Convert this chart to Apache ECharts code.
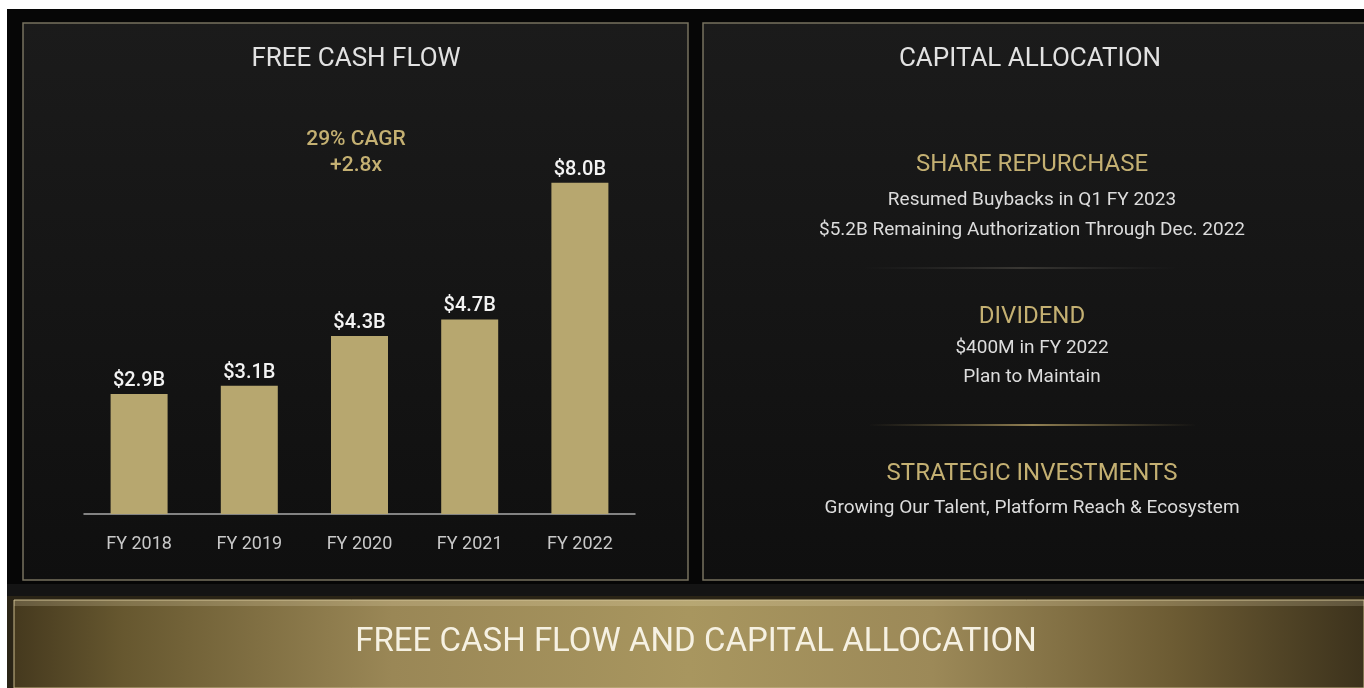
<!DOCTYPE html>
<html>
<head>
<meta charset="utf-8">
<title>Free Cash Flow and Capital Allocation</title>
<script src="https://cdn.jsdelivr.net/npm/echarts@6/dist/echarts.min.js"></script>
<style>
  html, body { margin: 0; padding: 0; background: #fff; }
  #chart { width: 1364px; height: 688px; }
</style>
</head>
<body>
<div id="chart"></div>
<script>
// data
var years = ['FY 2018', 'FY 2019', 'FY 2020', 'FY 2021', 'FY 2022'];
var fcf = [2.9, 3.1, 4.3, 4.7, 8.0];
var fcfLabels = ['$2.9B', '$3.1B', '$4.3B', '$4.7B', '$8.0B'];
var growthNote = ['29% CAGR', '+2.8x'];
var allocation = [
  { head: 'SHARE REPURCHASE', lines: ['Resumed Buybacks in Q1 FY 2023', '$5.2B Remaining Authorization Through Dec. 2022'] },
  { head: 'DIVIDEND', lines: ['$400M in FY 2022', 'Plan to Maintain'] },
  { head: 'STRATEGIC INVESTMENTS', lines: ['Growing Our Talent, Platform Reach & Ecosystem'] }
];

var FONT = 'Roboto, "DejaVu Sans", sans-serif';
var GOLD = '#c4b072';
var BAR = '#b7a76f';

function txt(x, y, s, size, color, weight) {
  return {
    type: 'text', x: x, y: y, z: 10,
    style: {
      text: s, fontSize: size, fill: color, fontFamily: FONT,
      fontWeight: weight || 'normal', align: 'center', verticalAlign: 'middle'
    }
  };
}

var chart = echarts.init(document.getElementById('chart'));

var panelFill = new echarts.graphic.LinearGradient(0, 0, 0, 1, [
  { offset: 0, color: '#1b1b1b' }, { offset: 1, color: '#0f0f0f' }]);

var graphics = [
  // black slide area (white margin top/left like the capture)
  { type: 'rect', z: 0, shape: { x: 7, y: 9, width: 1357, height: 679 }, style: { fill: '#060606' } },
  // left panel
  { type: 'rect', z: 1, shape: { x: 23, y: 23, width: 665, height: 557 },
    style: { fill: panelFill, stroke: '#77725f', lineWidth: 1.5 } },
  // right panel
  { type: 'rect', z: 1, shape: { x: 703, y: 23, width: 670, height: 557 },
    style: { fill: panelFill, stroke: '#77725f', lineWidth: 1.5 } },
  // strip under the panels
  { type: 'rect', z: 1, shape: { x: 7, y: 584, width: 1357, height: 12 }, style: { fill: '#141414' } },
  // banner
  { type: 'rect', z: 1, shape: { x: 7, y: 596, width: 1357, height: 92 },
    style: { fill: '#2a2416' } },
  { type: 'rect', z: 2, shape: { x: 14, y: 600, width: 1350, height: 88 },
    style: { fill: new echarts.graphic.LinearGradient(0, 0, 1, 0, [
      { offset: 0, color: '#45391e' },
      { offset: 0.08, color: '#66572f' },
      { offset: 0.28, color: '#9a8756' },
      { offset: 0.5, color: '#a8965f' },
      { offset: 0.68, color: '#9c8958' },
      { offset: 0.86, color: '#6c5b33' },
      { offset: 1, color: '#3c321c' }]),
      stroke: '#c9b98a', lineWidth: 1 } },
  { type: 'rect', z: 3, shape: { x: 14, y: 600, width: 1350, height: 6 },
    style: { fill: 'rgba(255,245,210,0.18)' } },
  txt(696, 643, 'FREE CASH FLOW AND CAPITAL ALLOCATION', 33, '#f6f1e2'),
  // left panel texts
  txt(356, 59, 'FREE CASH FLOW', 26, '#e2e2e2'),
  txt(356, 140, growthNote[0], 21, GOLD, 500),
  txt(356, 166, growthNote[1], 21, GOLD, 500),
  // right panel texts
  txt(1030, 59, 'CAPITAL ALLOCATION', 26, '#e2e2e2'),
  // dividers
  { type: 'line', z: 5, shape: { x1: 865, y1: 268, x2: 1175, y2: 268 },
    style: { stroke: new echarts.graphic.LinearGradient(0, 0, 1, 0, [
      { offset: 0, color: 'rgba(80,80,80,0)' }, { offset: 0.5, color: 'rgba(110,105,95,0.8)' }, { offset: 1, color: 'rgba(80,80,80,0)' }]),
      lineWidth: 1 } },
  { type: 'line', z: 5, shape: { x1: 870, y1: 425, x2: 1195, y2: 425 },
    style: { stroke: new echarts.graphic.LinearGradient(0, 0, 1, 0, [
      { offset: 0, color: 'rgba(150,130,80,0)' }, { offset: 0.5, color: 'rgba(200,175,110,0.95)' }, { offset: 1, color: 'rgba(150,130,80,0)' }]),
      lineWidth: 1.5 } }
];

var headY = [165, 317, 474];
var lineY = [[200, 230], [348, 377], [508]];
allocation.forEach(function (a, i) {
  graphics.push(txt(1032, headY[i], a.head, 24, GOLD));
  a.lines.forEach(function (l, j) {
    graphics.push(txt(1032, lineY[i][j], l, 19, '#dcdcdc'));
  });
});

chart.setOption({
  backgroundColor: '#ffffff',
  animation: false,
  graphic: graphics,
  grid: { left: 84, top: 100, width: 551, height: 414 },
  xAxis: {
    type: 'category',
    data: years,
    z: 20,
    axisLine: { lineStyle: { color: '#a9a9a9', width: 1.5 } },
    axisTick: { show: false },
    axisLabel: { color: '#c9c9c9', fontSize: 18, margin: 21, fontFamily: FONT }
  },
  yAxis: {
    type: 'value', min: 0, max: 10,
    show: false, splitLine: { show: false }
  },
  series: [{
    type: 'bar',
    data: fcf,
    barWidth: 57,
    z: 20,
    itemStyle: { color: BAR },
    label: {
      show: true, position: 'top', distance: 3,
      color: '#f3f3f3', fontSize: 20, fontWeight: 500, fontFamily: FONT,
      formatter: function (p) { return fcfLabels[p.dataIndex]; }
    }
  }]
});
</script>
</body>
</html>
